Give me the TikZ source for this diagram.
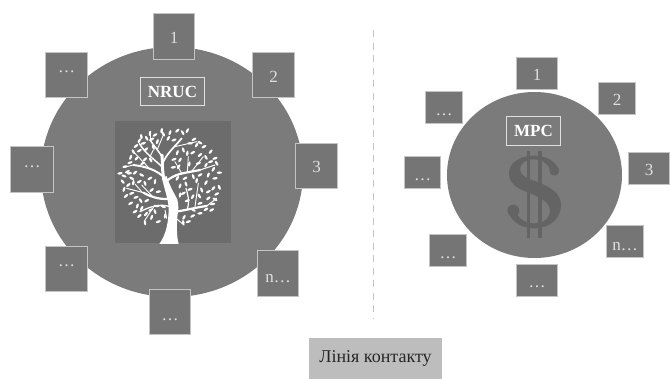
\documentclass[tikz,border=0pt]{standalone}
\usepackage{fontspec}
\usetikzlibrary{shapes.geometric}
\setmainfont{Liberation Serif}
\definecolor{disc}{HTML}{7B7B7B}
\definecolor{cellfill}{HTML}{757575}
\definecolor{edge}{HTML}{C4C4C4}
\definecolor{treebg}{HTML}{6C6C6C}
\definecolor{signcol}{HTML}{646464}
\definecolor{inktext}{HTML}{E0E0E0}
\definecolor{legendbg}{HTML}{BDBDBD}
\definecolor{legendink}{HTML}{262626}
\tikzset{
  x=1pt,y=-1pt,
  discshape/.style={ellipse,fill=disc,draw=none,inner sep=0pt},
  cellbox/.style={draw=edge,line width=0.9pt,fill=cellfill,inner sep=0pt,text=inktext,font=\fontsize{17}{17}\selectfont,text height=0pt,text depth=0pt},
  titlebox/.style={draw=inktext,line width=1.3pt,fill=disc,inner sep=0pt,text=white,font=\fontsize{17}{17}\selectfont\bfseries},
  leaf/.style={fill=white,draw=none},
  twig/.style={draw=white,line cap=round,line join=round},
}
% name, x0, y0, x1, y1, baseline y, text
\newcommand{\cellnode}[7]{%
  \node[cellbox,minimum width={#4-#2-0.9},minimum height={#5-#3-0.9}] (#1) at ({(#2+#4)/2},{(#3+#5)/2})
    {\raisebox{\dimexpr #5pt/2 + #3pt/2 - #6pt\relax}{#7}};}
\begin{document}
\begin{tikzpicture}
\useasboundingbox (0,0) rectangle (670,378);
\fill[white] (0,0) rectangle (670,378);
% discs
\node[discshape,minimum width=262,minimum height=250] (leftdisc) at (172,172) {};
\node[discshape,minimum width=175,minimum height=166] (rightdisc) at (534.5,175) {};
% tree panel
\node[fill=treebg,minimum width=116,minimum height=122,inner sep=0] (panel) at (173,182) {};
\begin{scope}[shift={(100,110)},x=0.3333pt,y=-0.3333pt]
  \fill[white] (178,402) .. controls (198,375) and (206,335) .. (206,295)
     .. controls (204,265) and (194,240) .. (186,205) -- (200,198)
     .. controls (208,225) and (222,250) .. (232,268)
     .. controls (236,285) and (236,300) .. (232,320)
     .. controls (230,350) and (230,380) .. (236,402) -- cycle;
  \draw[twig,line width=3pt] (192,210) .. controls (186,180) and (188,160) .. (186,135);
  \draw[twig,line width=1.5pt] (186,140) .. controls (170,115) and (160,105) .. (150,90);
  \draw[twig,line width=0.9pt] (150,92) -- (150,72);
  \draw[twig,line width=0.9pt] (172,118) -- (190,75);
  \draw[twig,line width=2.2pt] (198,215) .. controls (225,190) and (250,190) .. (300,180);
  \draw[twig,line width=1pt] (300,180) -- (345,165);
  \draw[twig,line width=0.9pt] (275,184) -- (310,140);
  \draw[twig,line width=0.9pt] (245,190) -- (225,155);
  \draw[twig,line width=0.9pt] (262,187) -- (265,140);
  \draw[twig,line width=1.7pt] (190,155) .. controls (205,125) and (225,110) .. (245,85);
  \draw[twig,line width=0.9pt] (225,110) -- (290,95);
  \draw[twig,line width=2pt] (196,205) .. controls (170,180) and (140,170) .. (100,165);
  \draw[twig,line width=0.9pt] (145,172) -- (105,130);
  \draw[twig,line width=0.9pt] (100,165) -- (72,172);
  \draw[twig,line width=1.5pt] (186,170) .. controls (165,150) and (135,130) .. (118,100);
  \draw[twig,line width=0.9pt] (150,140) -- (160,120);
  \draw[twig,line width=2.2pt] (212,265) .. controls (190,270) and (160,265) .. (130,248);
  \draw[twig,line width=1pt] (130,248) -- (80,235);
  \draw[twig,line width=0.9pt] (125,245) -- (105,222);
  \draw[twig,line width=0.9pt] (160,262) -- (125,225);
  \draw[twig,line width=1.3pt] (210,290) .. controls (180,280) and (150,290) .. (120,305);
  \draw[twig,line width=0.9pt] (165,285) -- (135,330);
  \draw[twig,line width=2.2pt] (228,305) .. controls (260,300) and (290,292) .. (320,288);
  \draw[twig,line width=1pt] (320,288) -- (350,265);
  \draw[twig,line width=1.2pt] (262,298) .. controls (270,270) and (262,250) .. (258,235);
  \draw[twig,line width=0.9pt] (285,290) -- (295,220);
  \draw[twig,line width=0.9pt] (228,325) -- (252,345);
  \draw[twig,line width=0.9pt] (195,300) -- (200,325);
  \foreach \lx/\ly/\la in {
   150/70/80,165/75/30,185/62/80,190/72/120,210/68/70,232/62/40,248/68/120,262/62/60,
   118/92/60,130/100/20,124/80/100,155/88/30,172/95/70,138/118/40,160/112/110,
   282/88/30,300/98/150,290/105/60,312/110/30,270/100/0,
   100/125/120,118/122/30,90/158/20,110/145/50,75/170/10,135/148/40,152/150/120,128/160/30,
   72/198/160,88/190/10,105/188/40,125/195/150,68/215/130,
   232/128/70,250/120/110,222/148/20,240/150/60,262/130/80,278/128/30,
   300/135/40,318/142/120,332/155/20,358/188/0,340/178/60,350/160/120,318/165/60,295/160/20,
   220/172/10,236/170/60,268/162/80,
   72/238/70,85/225/40,100/218/80,118/215/30,135/220/110,155/240/40,175/245/10,
   92/280/30,108/262/20,122/272/120,140/272/30,125/295/60,118/318/40,135/338/100,152/300/30,155/322/70,175/335/20,
   172/288/10,190/290/160,195/318/80,
   240/228/70,258/222/110,270/238/20,290/212/80,318/218/60,305/240/110,325/245/30,
   250/250/30,278/260/60,298/258/120,340/235/50,358/232/110,350/252/30,
   338/282/10,318/298/30,300/310/10,345/268/150,
   252/322/60,265/335/20,278/318/30,250/338/100,
   205/85/60,222/90/20,140/85/120,108/108/40,92/142/70,82/185/30,60/190/10,95/205/150,150/205/30,165/215/80,
   332/125/50,345/145/20,300/195/30,325/195/70,345/205/10,280/200/110,255/205/30,232/205/60,
   78/258/40,95/250/20,112/288/70,105/305/30,138/312/50,165/305/110,
   325/265/40,300/280/20,280/300/150,335/300/30,240/255/80,262/272/20
  }{
    \fill[leaf,rotate around={\la:(\lx,\ly)}] (\lx,\ly) ellipse [x radius=8,y radius=3.6];
  }
\end{scope}
% dollar sign
\begin{scope}[shift={(495,140)},x=0.3333pt,y=-0.3333pt]
  \fill[signcol] (192,90) .. controls (180,60) and (150,47) .. (118,47)
     .. controls (75,47) and (42,68) .. (42,100)
     .. controls (42,130) and (65,145) .. (100,158)
     .. controls (130,170) and (165,185) .. (165,212)
     .. controls (165,235) and (145,250) .. (118,250)
     .. controls (95,250) and (75,240) .. (68,225)
     -- (42,222)
     .. controls (55,250) and (85,265) .. (118,265)
     .. controls (165,265) and (198,235) .. (198,195)
     .. controls (198,160) and (165,140) .. (125,125)
     .. controls (95,115) and (75,105) .. (75,88)
     .. controls (75,68) and (95,58) .. (118,58)
     .. controls (140,58) and (155,68) .. (165,88) -- cycle;
  \fill[signcol] (178,92) circle [radius=15];
  \fill[signcol] (55,212) circle [radius=18];
  \draw[signcol,line width=3.2pt] (100,32) -- (100,295);
  \draw[signcol,line width=3.2pt] (135,32) -- (135,295);
\end{scope}
% titles
\node[titlebox,minimum width=64,minimum height=28] (nruc) at (172.5,91.5) {NRUC};
\node[titlebox,minimum width=54,minimum height=29] (mpc) at (533.5,131) {MPC};
% left cells
\cellnode{a1}{153}{13}{195}{60}{43}{1}
\cellnode{a2}{252}{52}{295}{98}{82}{2}
\cellnode{a3}{295}{143}{338}{189}{172}{3}
\cellnode{an}{257}{250}{299}{297}{282}{n…}
\cellnode{ab}{149}{289}{191}{335}{320}{…}
\cellnode{ac}{45}{246}{88}{292}{266}{…}
\cellnode{ad}{10}{146}{54}{193}{167}{…}
\cellnode{ae}{45}{52}{88}{98}{72}{…}
% right cells
\cellnode{b1}{516}{57}{558}{90}{80}{1}
\cellnode{b2}{598}{82}{636}{115}{105}{2}
\cellnode{b3}{628}{152}{670}{185}{175}{3}
\cellnode{bn}{606}{225}{644}{258}{250}{n…}
\cellnode{bb}{516}{264}{558}{297}{287}{…}
\cellnode{bc}{429}{234}{467}{267}{258}{…}
\cellnode{bd}{404}{156}{441}{189}{180}{…}
\cellnode{be}{425}{91}{463}{124}{115}{…}
% divider
\coordinate (divtop) at (373,30);
\coordinate (divbot) at (373,318);
\draw[edge,line width=1pt,dash pattern=on 7pt off 5.5pt] (divtop) -- (divbot);
% legend
\node[fill=legendbg,text=legendink,minimum width=133,minimum height=41,inner sep=0,font=\fontsize{18}{18}\selectfont] (legend) at (375.5,358) {Лінія контакту};
\end{tikzpicture}
\end{document}
